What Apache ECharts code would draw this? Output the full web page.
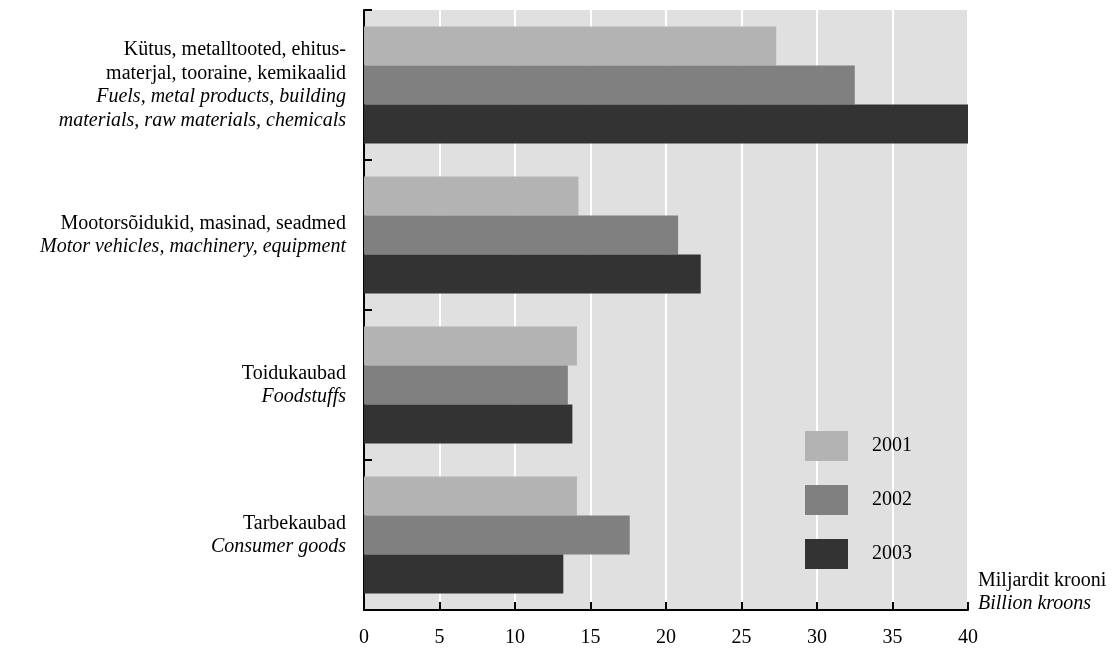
<!DOCTYPE html>
<html>
<head>
<meta charset="utf-8">
<script src="https://cdn.jsdelivr.net/npm/echarts@6/dist/echarts.min.js"></script>
<style>html,body{margin:0;padding:0;background:#fff;}#c{width:1120px;height:650px;}</style>
</head>
<body>
<div id="c"></div>
<script>
const catEt = [
  ['Kütus, metalltooted, ehitus-', 'materjal, tooraine, kemikaalid'],
  ['Mootorsõidukid, masinad, seadmed'],
  ['Toidukaubad'],
  ['Tarbekaubad']
];
const catEn = [
  ['Fuels, metal products, building', 'materials, raw materials, chemicals'],
  ['Motor vehicles, machinery, equipment'],
  ['Foodstuffs'],
  ['Consumer goods']
];
const years = ['2001', '2002', '2003'];
const v2001 = [27.3, 14.2, 14.1, 14.1];
const v2002 = [32.5, 20.8, 13.5, 17.6];
const v2003 = [40.0, 22.3, 13.8, 13.2];
const xTicks = [0, 5, 10, 15, 20, 25, 30, 35, 40];
const axisNameEt = 'Miljardit krooni';
const axisNameEn = 'Billion kroons';

const colors = ['#b3b3b3', '#808080', '#333333'];
const font = 'Liberation Serif';
const catIdx = catEt.map((_, i) => String(i));

const chart = echarts.init(document.getElementById('c'));
chart.setOption({
  animation: false,
  textStyle: { fontFamily: font },
  grid: { left: 364, right: 152, top: 10, bottom: 40, show: true, backgroundColor: '#e0e0e0', borderWidth: 0 },
  legend: {
    orient: 'vertical', left: 805, top: 431, padding: 0,
    itemWidth: 43, itemHeight: 30, itemGap: 24,
    icon: 'rect',
    data: years,
    textStyle: { fontFamily: font, fontSize: 20, color: '#000', padding: [2, 0, 0, 19] }
  },
  xAxis: {
    type: 'value', min: 0, max: 40, interval: 5,
    name: '{a|' + axisNameEt + '}\n{b|' + axisNameEn + '}',
    nameLocation: 'end', nameGap: 10,
    nameTextStyle: {
      align: 'left', verticalAlign: 'bottom', padding: [0, 0, -5, 0],
      rich: {
        a: { fontFamily: font, fontSize: 20, color: '#000', lineHeight: 23 },
        b: { fontFamily: font, fontSize: 20, fontStyle: 'italic', color: '#000', lineHeight: 23 }
      }
    },
    axisLine: { show: true, lineStyle: { color: '#000', width: 2 } },
    axisTick: { show: true, inside: true, length: 8, lineStyle: { color: '#000', width: 2 } },
    axisLabel: { fontFamily: font, fontSize: 20, color: '#000', margin: 18,
      formatter: v => xTicks.indexOf(v) >= 0 ? String(v) : '' },
    splitLine: { show: true, lineStyle: { color: '#ffffff', width: 2 } }
  },
  yAxis: {
    type: 'category', inverse: true, data: catIdx,
    axisLine: { show: true, lineStyle: { color: '#000', width: 2 } },
    axisTick: { show: true, inside: true, length: 8, lineStyle: { color: '#000', width: 2 } },
    axisLabel: {
      margin: 18, align: 'right',
      formatter: function (v) {
        const i = +v;
        return catEt[i].map(s => '{a|' + s + '}').concat(catEn[i].map(s => '{b|' + s + '}')).join('\n');
      },
      rich: {
        a: { fontFamily: font, fontSize: 20, color: '#000', lineHeight: 23.5, align: 'right' },
        b: { fontFamily: font, fontSize: 20, fontStyle: 'italic', color: '#000', lineHeight: 23.5, align: 'right' }
      }
    },
    splitLine: { show: false }
  },
  series: [v2001, v2002, v2003].map((d, k) => ({
    name: years[k], type: 'bar', data: d,
    barWidth: 39, barGap: '0%',
    itemStyle: { color: colors[k] }
  }))
});
</script>
</body>
</html>
